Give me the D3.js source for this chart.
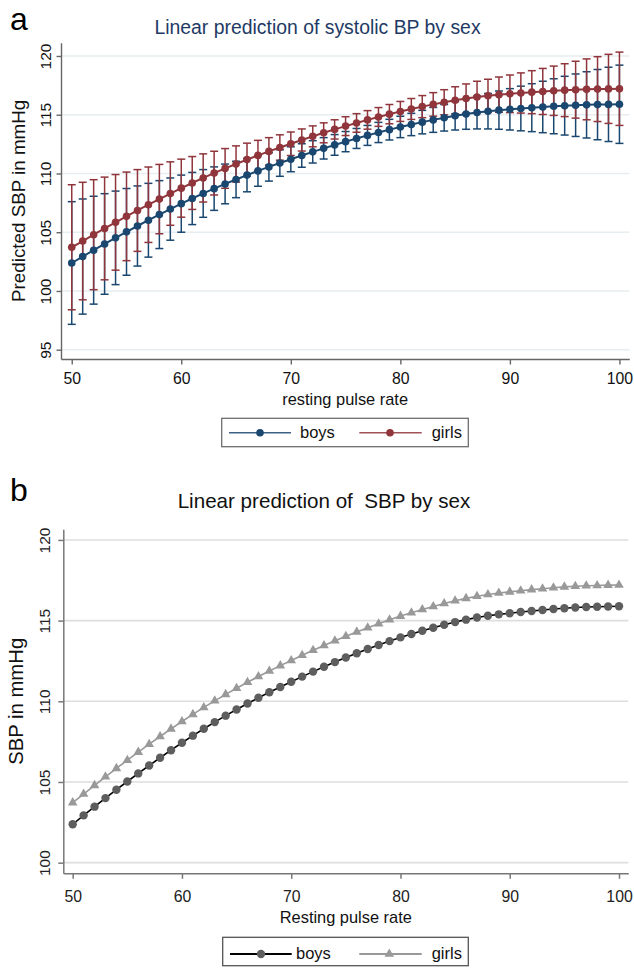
<!DOCTYPE html>
<html>
<head>
<meta charset="utf-8">
<script src="https://cdn.jsdelivr.net/npm/d3@7"></script>
<style>
html,body{margin:0;padding:0;background:#fff;}
svg{display:block;font-family:"Liberation Sans",Arial,sans-serif;}
</style>
</head>
<body>
<svg id="chart" width="634" height="969"></svg>
<script>
// ---- data ----
const pulse = [50,51,52,53,54,55,56,57,58,59,60,61,62,63,64,65,66,67,68,69,70,71,72,73,74,75,76,77,78,79,80,81,82,83,84,85,86,87,88,89,90,91,92,93,94,95,96,97,98,99,100];
const boysMean = [102.38,102.93,103.47,104.00,104.52,105.03,105.53,106.02,106.50,106.97,107.43,107.87,108.30,108.71,109.11,109.49,109.86,110.22,110.56,110.89,111.21,111.53,111.84,112.14,112.43,112.71,112.98,113.24,113.49,113.73,113.96,114.17,114.37,114.56,114.74,114.91,115.06,115.19,115.30,115.39,115.46,115.53,115.60,115.66,115.72,115.77,115.81,115.84,115.86,115.88,115.89];
const boysLo = [97.16,98.03,98.88,99.72,100.54,101.34,102.12,102.88,103.61,104.32,105.00,105.65,106.27,106.86,107.42,107.94,108.44,108.91,109.35,109.76,110.15,110.53,110.89,111.23,111.55,111.85,112.13,112.39,112.63,112.85,113.05,113.22,113.37,113.50,113.61,113.70,113.76,113.79,113.79,113.76,113.70,113.63,113.56,113.47,113.38,113.27,113.15,113.02,112.87,112.72,112.56];
const boysHi = [107.60,107.83,108.06,108.28,108.50,108.72,108.94,109.16,109.39,109.62,109.86,110.09,110.33,110.56,110.80,111.04,111.28,111.53,111.77,112.02,112.27,112.53,112.79,113.05,113.31,113.57,113.83,114.09,114.35,114.61,114.87,115.12,115.37,115.62,115.87,116.12,116.36,116.59,116.81,117.02,117.22,117.43,117.64,117.85,118.06,118.27,118.47,118.66,118.85,119.04,119.22];
const girlsMean = [103.72,104.25,104.79,105.32,105.84,106.35,106.85,107.34,107.82,108.29,108.75,109.19,109.62,110.03,110.43,110.81,111.18,111.54,111.88,112.21,112.53,112.85,113.16,113.46,113.75,114.03,114.30,114.56,114.81,115.05,115.28,115.49,115.69,115.88,116.06,116.23,116.38,116.51,116.62,116.71,116.78,116.85,116.92,116.98,117.04,117.09,117.13,117.16,117.18,117.20,117.21];
const girlsLo = [98.40,99.25,100.11,100.95,101.77,102.58,103.37,104.13,104.87,105.59,106.28,106.94,107.57,108.17,108.74,109.27,109.78,110.26,110.71,111.13,111.53,111.91,112.27,112.61,112.93,113.23,113.51,113.77,114.01,114.23,114.43,114.60,114.75,114.88,114.99,115.08,115.14,115.17,115.22,115.21,115.18,115.14,115.09,115.02,114.94,114.84,114.71,114.57,114.42,114.26,114.09];
const girlsHi = [109.04,109.25,109.47,109.69,109.91,110.12,110.33,110.55,110.77,110.99,111.22,111.44,111.67,111.89,112.12,112.35,112.58,112.82,113.05,113.29,113.53,113.79,114.05,114.31,114.57,114.83,115.09,115.35,115.61,115.87,116.13,116.38,116.63,116.88,117.13,117.38,117.62,117.85,118.02,118.21,118.38,118.56,118.75,118.94,119.14,119.34,119.55,119.75,119.94,120.14,120.33];
const xTicks = [50,60,70,80,90,100];
const yTicksA = [95,100,105,110,115,120];
const yTicksB = [100,105,110,115,120];
const seriesNames = ["boys","girls"];

const svg = d3.select("#chart");
const FONT = '"Liberation Sans",Arial,sans-serif';

// ================= PANEL A =================
const A = {left:61, right:629.3, top:42.7, bottom:359};
const xA = d3.scaleLinear().domain([49.02,100.9]).range([A.left,A.right]);
const yA = d3.scaleLinear().domain([94.21,121.13]).range([A.bottom,A.top]);
const cA = {boys:"#1a476f", girls:"#90353b"};

const gA = svg.append("g");
gA.append("g").selectAll("line").data(yTicksA).join("line")
  .attr("x1",A.left).attr("x2",A.right)
  .attr("y1",d=>yA(d)).attr("y2",d=>yA(d))
  .attr("stroke","#e6eef1").attr("stroke-width",1.5);

const axAx = gA.append("g").attr("transform",`translate(0,${A.bottom})`)
  .call(d3.axisBottom(xA).tickValues(xTicks).tickSize(5.5).tickSizeOuter(0));
axAx.select(".domain").attr("stroke","#666").attr("stroke-width",1.4);
axAx.selectAll(".tick line").attr("stroke","#666").attr("stroke-width",1.4);
axAx.selectAll(".tick text").attr("font-family",FONT).attr("font-size",15.8).attr("fill","#111")
  .attr("dy",null).attr("y",25.3);

const ayA = gA.append("g").attr("transform",`translate(${A.left},0)`)
  .call(d3.axisLeft(yA).tickValues(yTicksA).tickSize(4.5).tickSizeOuter(0));
ayA.select(".domain").attr("stroke","#666").attr("stroke-width",1.4);
ayA.selectAll(".tick line").attr("stroke","#666").attr("stroke-width",1.4);
ayA.selectAll(".tick text").attr("font-family",FONT).attr("font-size",15.5).attr("fill","#111")
  .attr("transform","rotate(-90)").attr("x",0).attr("y",-10.5).attr("dy",0).attr("text-anchor","middle");

function drawCI(g, xs, ys, lo, hi, color, cap){
  const gg = g.append("g").attr("stroke",color).attr("stroke-width",1.5).attr("fill","none");
  gg.selectAll("line.v").data(pulse).join("line").attr("class","v")
    .attr("x1",d=>xs(d)).attr("x2",d=>xs(d))
    .attr("y1",(d,i)=>ys(lo[i])).attr("y2",(d,i)=>ys(hi[i]));
  gg.selectAll("line.l").data(pulse).join("line").attr("class","l")
    .attr("x1",d=>xs(d)-cap).attr("x2",d=>xs(d)+cap)
    .attr("y1",(d,i)=>ys(lo[i])).attr("y2",(d,i)=>ys(lo[i]));
  gg.selectAll("line.h").data(pulse).join("line").attr("class","h")
    .attr("x1",d=>xs(d)-cap).attr("x2",d=>xs(d)+cap)
    .attr("y1",(d,i)=>ys(hi[i])).attr("y2",(d,i)=>ys(hi[i]));
}
drawCI(gA, xA, yA, boysLo, boysHi, cA.boys, 4);
drawCI(gA, xA, yA, girlsLo, girlsHi, cA.girls, 4);

function drawLine(g, xs, ys, vals, color, w){
  g.append("path").datum(pulse)
    .attr("d", d3.line().x(d=>xs(d)).y((d,i)=>ys(vals[i])))
    .attr("fill","none").attr("stroke",color).attr("stroke-width",w);
}
drawLine(gA, xA, yA, boysMean, cA.boys, 2);
gA.append("g").selectAll("circle").data(pulse).join("circle")
  .attr("cx",d=>xA(d)).attr("cy",(d,i)=>yA(boysMean[i])).attr("r",3.8).attr("fill",cA.boys);
drawLine(gA, xA, yA, girlsMean, cA.girls, 2);
gA.append("g").selectAll("circle").data(pulse).join("circle")
  .attr("cx",d=>xA(d)).attr("cy",(d,i)=>yA(girlsMean[i])).attr("r",3.8).attr("fill",cA.girls);

svg.append("text").attr("x",10).attr("y",29.5).attr("font-family",FONT).attr("font-size",32).attr("fill","#000").text("a");
svg.append("text").attr("x",317.5).attr("y",34).attr("text-anchor","middle").attr("font-family",FONT)
  .attr("font-size",19.4).attr("fill","#1e3a64").text("Linear prediction of systolic BP by sex");
svg.append("text").attr("transform",`translate(25,${(A.top+A.bottom)/2}) rotate(-90)`).attr("text-anchor","middle")
  .attr("font-family",FONT).attr("font-size",18.8).attr("fill","#111").text("Predicted SBP in mmHg");
svg.append("text").attr("x",(A.left+A.right)/2).attr("y",405).attr("text-anchor","middle")
  .attr("font-family",FONT).attr("font-size",16.4).attr("fill","#111").text("resting pulse rate");

const lgA = svg.append("g");
lgA.append("rect").attr("x",221.7).attr("y",418.3).attr("width",246.6).attr("height",28.4)
  .attr("fill","#fff").attr("stroke","#6e6e6e").attr("stroke-width",1.3);
[[229,291,260,300,"boys"],[359.3,421.7,390,431.7,"girls"]].forEach((p,k)=>{
  const col = cA[seriesNames[k]];
  lgA.append("line").attr("x1",p[0]).attr("x2",p[1]).attr("y1",432.7).attr("y2",432.7)
    .attr("stroke",col).attr("stroke-width",1.6).attr("opacity",0.85);
  lgA.append("circle").attr("cx",p[2]).attr("cy",432.7).attr("r",3.8).attr("fill",col);
  lgA.append("text").attr("x",p[3]).attr("y",438).attr("font-family",FONT).attr("font-size",16.5)
    .attr("fill","#111").text(seriesNames[k]);
});

// ================= PANEL B =================
const B = {left:63.3, right:628.3, top:529.3, bottom:873.3};
const xB = d3.scaleLinear().domain([49.14,100.85]).range([B.left,B.right]);
const yB = d3.scaleLinear().domain([99.34,120.66]).range([B.bottom,B.top]);
const gB = svg.append("g");

gB.append("g").selectAll("line").data(yTicksB).join("line")
  .attr("x1",B.left).attr("x2",B.right)
  .attr("y1",d=>yB(d)).attr("y2",d=>yB(d))
  .attr("stroke","#dedede").attr("stroke-width",1.6);

const axB = gB.append("g").attr("transform",`translate(0,${B.bottom})`)
  .call(d3.axisBottom(xB).tickValues(xTicks).tickSize(5.5).tickSizeOuter(0));
axB.select(".domain").attr("stroke","#777").attr("stroke-width",1.5);
axB.selectAll(".tick line").attr("stroke","#777").attr("stroke-width",1.5);
axB.selectAll(".tick text").attr("font-family",FONT).attr("font-size",15.8).attr("fill","#222")
  .attr("dy",null).attr("y",28.4);

const ayB = gB.append("g").attr("transform",`translate(${B.left},0)`)
  .call(d3.axisLeft(yB).tickValues(yTicksB).tickSize(5).tickSizeOuter(0));
ayB.select(".domain").attr("stroke","#777").attr("stroke-width",1.5);
ayB.selectAll(".tick line").attr("stroke","#777").attr("stroke-width",1.5);
ayB.selectAll(".tick text").attr("font-family",FONT).attr("font-size",15.5).attr("fill","#222")
  .attr("transform","rotate(-90)").attr("x",0).attr("y",-13.3).attr("dy",0).attr("text-anchor","middle");

const cB = {boysLine:"#000", boysMark:"#5e5e5e", girls:"#999999"};
drawLine(gB, xB, yB, girlsMean, cB.girls, 1.6);
gB.append("g").selectAll("path").data(pulse).join("path")
  .attr("transform",(d,i)=>`translate(${xB(d)},${yB(girlsMean[i])})`)
  .attr("d", d3.symbol(d3.symbolTriangle, 40)()).attr("fill",cB.girls);
drawLine(gB, xB, yB, boysMean, cB.boysLine, 1.6);
gB.append("g").selectAll("circle").data(pulse).join("circle")
  .attr("cx",d=>xB(d)).attr("cy",(d,i)=>yB(boysMean[i])).attr("r",4.2).attr("fill",cB.boysMark);

svg.append("text").attr("x",10).attr("y",501).attr("font-family",FONT).attr("font-size",32).attr("fill","#000").text("b");
svg.append("text").attr("x",324).attr("y",508).attr("text-anchor","middle").attr("font-family",FONT)
  .attr("font-size",20.6).attr("fill","#111").attr("xml:space","preserve").style("white-space","pre")
  .text("Linear prediction of  SBP by sex");
svg.append("text").attr("transform",`translate(23.3,${(B.top+B.bottom)/2}) rotate(-90)`).attr("text-anchor","middle")
  .attr("font-family",FONT).attr("font-size",20.3).attr("fill","#111").text("SBP in mmHg");
svg.append("text").attr("x",(B.left+B.right)/2).attr("y",923).attr("text-anchor","middle")
  .attr("font-family",FONT).attr("font-size",16.4).attr("fill","#111").text("Resting pulse rate");

const lgB = svg.append("g");
lgB.append("rect").attr("x",222.7).attr("y",937.3).attr("width",245.6).attr("height",28.4)
  .attr("fill","#fff").attr("stroke","#555").attr("stroke-width",1.3);
lgB.append("line").attr("x1",230).attr("x2",291.7).attr("y1",954).attr("y2",954).attr("stroke",cB.boysLine).attr("stroke-width",1.8);
lgB.append("circle").attr("cx",261).attr("cy",954).attr("r",4.2).attr("fill",cB.boysMark);
lgB.append("text").attr("x",296).attr("y",959).attr("font-family",FONT).attr("font-size",16.5).attr("fill","#111").text(seriesNames[0]);
lgB.append("line").attr("x1",359.3).attr("x2",421.7).attr("y1",954).attr("y2",954).attr("stroke",cB.girls).attr("stroke-width",1.8);
lgB.append("path").attr("transform","translate(389.3,954)").attr("d",d3.symbol(d3.symbolTriangle,40)()).attr("fill",cB.girls);
lgB.append("text").attr("x",431.7).attr("y",959).attr("font-family",FONT).attr("font-size",16.5).attr("fill","#111").text(seriesNames[1]);
</script>
</body>
</html>
